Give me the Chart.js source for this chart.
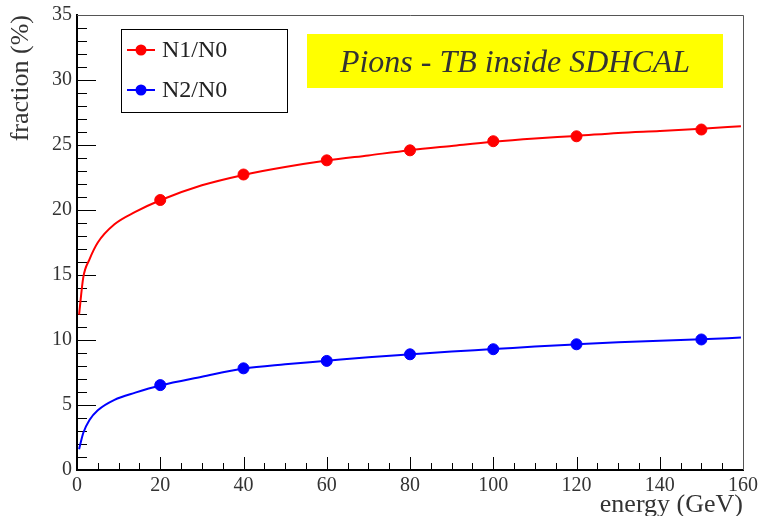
<!DOCTYPE html>
<html>
<head>
<meta charset="utf-8">
<script src="https://cdn.jsdelivr.net/npm/chart.js@4.4.1/dist/chart.umd.min.js"></script>
<style>
  html, body { margin: 0; padding: 0; background: #fff; }
  #wrap { width: 758px; height: 516px; }
</style>
</head>
<body>
<div id="wrap"><canvas id="fracGraph" width="758" height="516"></canvas></div>
<script>
// Points mesurés
const energies = [20, 40, 60, 80, 100, 120, 150];
const n1n0 = [20.77, 22.73, 23.82, 24.59, 25.29, 25.67, 26.19];
const n2n0 = [6.53, 7.82, 8.39, 8.90, 9.29, 9.67, 10.04];

// Courbes d'ajustement
const fitEnergies = [0.5, 1.5, 3, 5, 9, 14, 20, 30, 40, 50, 60, 70, 80, 90, 100, 110, 120, 130, 140, 150, 159.5];
const n1n0Fit = [11.95, 14.8, 16.2, 17.5, 18.9, 19.85, 20.75, 21.9, 22.7, 23.3, 23.8, 24.2, 24.6, 24.93, 25.25, 25.5, 25.7, 25.93, 26.08, 26.25, 26.45];
const n2n0Fit = [1.6, 2.85, 3.85, 4.6, 5.4, 5.95, 6.5, 7.17, 7.8, 8.13, 8.4, 8.67, 8.9, 9.12, 9.3, 9.5, 9.67, 9.83, 9.94, 10.05, 10.19];

const seriesLabels = ['N1/N0', 'N2/N0'];
const seriesColors = ['#ff0000', '#0000ff'];
const titleText = 'Pions - TB inside SDHCAL';

const serif = "'Liberation Serif', 'DejaVu Serif', serif";

function toXY(xs, ys) {
    return xs.map((x, i) => ({ x: x, y: ys[i] }));
}

// ticks internes + cadre + légende + boîte jaune
const rootStyle = {
    id: 'rootStyle',
    beforeDatasetsDraw(chart) {
        const { ctx, chartArea: a, scales: { x, y } } = chart;
        ctx.save();
        ctx.strokeStyle = '#000';
        ctx.lineWidth = 1;
        // ticks axe Y
        for (let v = 0; v <= 35; v += 1) {
            const py = Math.round(y.getPixelForValue(v)) + 0.5;
            const len = v % 5 === 0 ? 19 : 10;
            ctx.beginPath();
            ctx.moveTo(a.left, py);
            ctx.lineTo(a.left + len, py);
            ctx.stroke();
        }
        // ticks axe X
        for (let v = 0; v <= 160; v += 5) {
            const px = Math.round(x.getPixelForValue(v)) + 0.5;
            const len = v % 20 === 0 ? 13 : 7;
            ctx.beginPath();
            ctx.moveTo(px, a.bottom);
            ctx.lineTo(px, a.bottom - len);
            ctx.stroke();
        }
        // cadre haut / droite
        ctx.strokeStyle = '#555';
        ctx.beginPath();
        ctx.moveTo(a.left, a.top + 0.5);
        ctx.lineTo(a.right + 0.5, a.top + 0.5);
        ctx.lineTo(a.right + 0.5, a.bottom);
        ctx.stroke();
        ctx.restore();
    },
    afterDraw(chart) {
        const { ctx, chartArea: a } = chart;
        ctx.save();
        // légende
        const lx = a.left + 44, ly = a.top + 14, lw = 166, lh = 83;
        ctx.fillStyle = '#fff';
        ctx.fillRect(lx, ly, lw, lh);
        ctx.strokeStyle = '#000';
        ctx.lineWidth = 1;
        ctx.strokeRect(lx + 0.5, ly + 0.5, lw, lh);
        seriesLabels.forEach((lab, i) => {
            const ry = ly + 21 + i * 40;
            ctx.strokeStyle = seriesColors[i];
            ctx.fillStyle = seriesColors[i];
            ctx.lineWidth = 2;
            ctx.beginPath();
            ctx.moveTo(lx + 6, ry);
            ctx.lineTo(lx + 34, ry);
            ctx.stroke();
            ctx.beginPath();
            ctx.arc(lx + 20, ry, 5.5, 0, Math.PI * 2);
            ctx.fill();
            ctx.fillStyle = '#222';
            ctx.font = '24px ' + serif;
            ctx.textBaseline = 'middle';
            ctx.textAlign = 'left';
            ctx.fillText(lab, lx + 41, ry + 1);
        });
        // boîte titre
        const bx = 307, by = 34, bw = 416, bh = 54;
        ctx.fillStyle = '#ffff00';
        ctx.fillRect(bx, by, bw, bh);
        ctx.fillStyle = '#333';
        ctx.font = 'italic 32px ' + serif;
        ctx.textAlign = 'center';
        ctx.textBaseline = 'alphabetic';
        ctx.fillText(titleText, bx + bw / 2, 72);
        ctx.restore();
    }
};

const ctx = document.getElementById('fracGraph').getContext('2d');
const fracGraph = new Chart(ctx, {
    type: 'scatter',
    data: {
        datasets: [
            {
                label: seriesLabels[0],
                data: toXY(energies, n1n0),
                backgroundColor: seriesColors[0],
                borderColor: seriesColors[0],
                pointRadius: 5.5,
                showLine: false
            },
            {
                label: seriesLabels[0] + ' fit',
                type: 'line',
                data: toXY(fitEnergies, n1n0Fit),
                borderColor: seriesColors[0],
                borderWidth: 2,
                pointRadius: 0,
                fill: false,
                cubicInterpolationMode: 'monotone'
            },
            {
                label: seriesLabels[1],
                data: toXY(energies, n2n0),
                backgroundColor: seriesColors[1],
                borderColor: seriesColors[1],
                pointRadius: 5.5,
                showLine: false
            },
            {
                label: seriesLabels[1] + ' fit',
                type: 'line',
                data: toXY(fitEnergies, n2n0Fit),
                borderColor: seriesColors[1],
                borderWidth: 2,
                pointRadius: 0,
                fill: false,
                cubicInterpolationMode: 'monotone'
            }
        ]
    },
    options: {
        responsive: false,
        animation: false,
        devicePixelRatio: 1,
        layout: { padding: { left: 0, right: 15, top: 15, bottom: 0 } },
        plugins: {
            legend: { display: false },
            tooltip: { enabled: false }
        },
        scales: {
            x: {
                type: 'linear',
                min: 0,
                max: 160,
                grid: { display: false, drawTicks: false },
                border: { display: true, color: '#000', width: 2 },
                ticks: {
                    stepSize: 20,
                    maxRotation: 0,
                    autoSkip: false,
                    padding: 4,
                    color: '#333',
                    font: { family: serif, size: 20 }
                },
                title: {
                    display: true,
                    text: 'energy (GeV)',
                    align: 'end',
                    color: '#333',
                    font: { family: serif, size: 26, lineHeight: 0.85 },
                    padding: { top: 0, bottom: 0 }
                },
                afterFit: function(scale) {
                    scale.height = 46;
                    scale.paddingLeft = 0;
                    scale.paddingRight = 0;
                }
            },
            y: {
                min: 0,
                max: 35,
                grid: { display: false, drawTicks: false },
                border: { display: true, color: '#000', width: 2 },
                ticks: {
                    stepSize: 5,
                    padding: 5,
                    color: '#333',
                    font: { family: serif, size: 20 }
                },
                title: {
                    display: true,
                    text: 'fraction (%)',
                    align: 'end',
                    color: '#333',
                    font: { family: serif, size: 26, lineHeight: 1 },
                    padding: { top: 8, bottom: 0 }
                },
                afterFit: function(scale) {
                    scale.width = 77;
                    scale.paddingTop = 0;
                    scale.paddingBottom = 0;
                }
            }
        }
    },
    plugins: [rootStyle]
});
</script>
</body>
</html>
